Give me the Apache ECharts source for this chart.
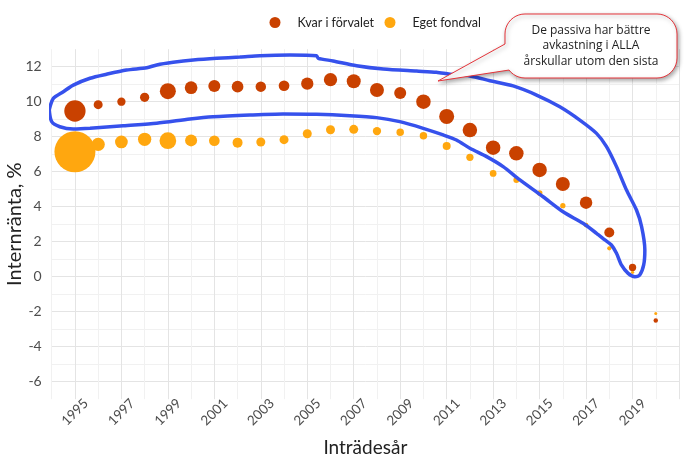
<!DOCTYPE html>
<html>
<head>
<meta charset="utf-8">
<script src="https://cdn.jsdelivr.net/npm/echarts@6/dist/echarts.min.js"></script>
<style>
html,body{margin:0;padding:0;background:#fff;}
#chart{width:690px;height:460px;}
</style>
</head>
<body>
<div id="chart"></div>
<script>
// Inträdesår (entry years)
const years = [1995,1996,1997,1998,1999,2000,2001,2002,2003,2004,2005,2006,2007,2008,2009,2010,2011,2012,2013,2014,2015,2016,2017,2018,2019,2020];
// Internränta, % — Kvar i förvalet
const kvarRanta = [9.47,9.83,10.0,10.25,10.6,10.8,10.9,10.86,10.86,10.91,11.03,11.26,11.17,10.67,10.5,10.0,9.16,8.38,7.37,7.05,6.1,5.3,4.23,2.53,0.53,-2.5];
// Internränta, % — Eget fondval
const egetRanta = [7.14,7.56,7.7,7.85,7.77,7.79,7.77,7.66,7.7,7.83,8.17,8.4,8.42,8.32,8.26,8.06,7.47,6.82,5.9,5.52,4.78,4.06,2.95,1.62,0.25,-2.1];
// Relative number of savers (bubble area)
const kvarAntal = [454,81,69,86,256,161,144,137,110,114,151,177,196,196,144,210,225,210,210,210,210,196,156,100,53,20];
const egetAntal = [1681,177,161,177,279,144,114,100,81,81,81,81,81,69,56,56,64,53,45,36,32,28,22,18,11,9];
// Year tick labels shown on the x axis
const yearLabels = [1995,1997,1999,2001,2003,2005,2007,2009,2011,2013,2015,2017,2019];
// Hand-drawn annotation outline, in data coordinates [year, %]
const outline = [
 [1993.89,9.53],[1994.07,10.19],[1994.50,10.57],[1994.93,10.95],[1995.65,11.34],[1996.36,11.57],
 [1997.22,11.81],[1998.09,11.94],[1998.52,12.10],[1999.23,12.25],[2000.09,12.38],[2001.10,12.48],
 [2002.10,12.55],[2002.96,12.63],[2004.25,12.67],[2005.40,12.63],[2005.47,12.48],[2006.11,12.33],
 [2007.12,12.06],[2008.27,11.87],[2009.70,11.75],[2010.56,11.68],[2011.14,11.57],[2012.00,11.47],
 [2012.86,11.20],[2013.86,10.90],[2014.87,10.38],[2015.87,9.71],[2016.73,8.95],[2017.45,8.19],
 [2017.88,7.43],[2018.31,6.29],[2018.74,4.95],[2019.17,3.81],[2019.39,2.86],[2019.53,1.53],
 [2019.48,0.67],[2019.31,0.10],[2019.10,0.0],[2018.81,0.19],[2018.52,0.67],[2018.31,1.34],
 [2018.09,1.81],[2017.81,2.10],[2017.45,2.48],[2016.87,3.05],[2016.01,3.71],[2015.15,4.57],
 [2014.15,5.53],[2013.43,6.29],[2012.72,6.86],[2012.00,7.34],[2011.42,7.81],[2010.85,8.10],
 [2009.99,8.48],[2008.98,8.86],[2007.98,9.09],[2006.83,9.20],[2005.40,9.28],[2003.96,9.30],
 [2002.53,9.24],[2000.95,9.14],[1999.95,9.01],[1998.52,8.77],[1997.08,8.63],[1995.65,8.48],
 [1994.93,8.44],[1994.35,8.57],[1994.00,8.86],[1993.89,9.53]
];
const calloutText = 'De passiva har bättre\navkastning i ALLA\nårskullar utom den sista';
const seriesNames = ['Kvar i förvalet','Eget fondval'];

const RED = '#C94100', ORANGE = '#FFA70F';
const FONT = 'Lato, "Noto Sans", sans-serif';

const kvarData = years.map((y,i)=>[y,kvarRanta[i],kvarAntal[i]]);
const egetData = years.map((y,i)=>[y,egetRanta[i],egetAntal[i]]);

// callout balloon outline (layout in pixels)
function arc(cx,cy,r,a0,a1,n){
  const pts=[];
  for(let k=0;k<=n;k++){const a=(a0+(a1-a0)*k/n)*Math.PI/180;pts.push([cx+r*Math.cos(a),cy+r*Math.sin(a)]);}
  return pts;
}
const bx0=505,bx1=677,by0=14,by1=78,br=20;
const balloon = [].concat(
  arc(bx1-br,by0+br,br,270,360,10),
  arc(bx1-br,by1-br,br,0,90,10),
  arc(bx0+br,by1-br,br,90,143,6),
  [[438,81],[bx0,44]],
  arc(bx0+br,by0+br,br,180,270,10)
);

const chart = echarts.init(document.getElementById('chart'), null, {renderer:'canvas'});
const MAJOR = '#e4e4e4', MINOR = '#f1f1f1';
chart.setOption({
  animation:false,
  backgroundColor:'#fff',
  textStyle:{fontFamily:FONT},
  grid:{left:51.7,right:11,top:49.2,bottom:60.8,containLabel:false,outerBoundsMode:'none'},
  legend:[
    {data:[seriesNames[0]],left:264.5,top:11,icon:'circle',itemWidth:11,itemHeight:11,
     textStyle:{fontFamily:FONT,fontSize:12.5,color:'#222',padding:[0,0,0,12]}},
    {data:[seriesNames[1]],left:379.5,top:11,icon:'circle',itemWidth:11,itemHeight:11,
     textStyle:{fontFamily:FONT,fontSize:12.5,color:'#222',padding:[0,0,0,12]}}
  ],
  xAxis:{
    type:'value',min:1994,max:2021,interval:1,
    name:'Inträdesår',nameLocation:'middle',nameGap:39,nameMoveOverlap:false,
    nameTextStyle:{fontFamily:FONT,fontSize:19,color:'#222'},
    axisLine:{show:false},axisTick:{show:false},
    axisLabel:{formatter:v=> (yearLabels.indexOf(v)>=0? String(v):''),rotate:45,align:'center',verticalAlign:'middle',
      margin:13,fontSize:13.5,color:'#4d4d4d',fontFamily:FONT},
    splitLine:{show:true,lineStyle:{color:[MINOR,MAJOR],width:1}}
  },
  yAxis:{
    type:'value',min:-7,max:13,interval:1,
    name:'Internränta, %',nameLocation:'middle',nameGap:27,nameMoveOverlap:false,
    nameTextStyle:{fontFamily:FONT,fontSize:20,color:'#222'},
    axisLine:{show:false},axisTick:{show:false},
    axisLabel:{formatter:v=> (Math.abs(v)%2===0? String(v):''),margin:10,fontSize:14,color:'#4d4d4d',fontFamily:FONT},
    splitLine:{show:true,showMinLine:false,showMaxLine:false,lineStyle:{color:[MAJOR,MINOR],width:1}}
  },
  series:[
    {name:seriesNames[1],type:'scatter',data:egetData,symbolSize:v=>Math.sqrt(v[2]),
     itemStyle:{color:ORANGE,opacity:1},z:2},
    {name:seriesNames[0],type:'scatter',data:kvarData,symbolSize:v=>Math.sqrt(v[2]),
     itemStyle:{color:RED,opacity:1},z:3},
    {name:'outline',type:'line',data:outline,showSymbol:false,symbol:'none',smooth:0.25,clip:false,
     lineStyle:{color:'#3651EC',width:3.5},z:4,silent:true}
  ],
  graphic:[
    {type:'polygon',z:100,shape:{points:balloon},
     style:{fill:'#fff',stroke:'#E5343A',lineWidth:1,shadowBlur:4,shadowOffsetX:1.5,shadowOffsetY:2,shadowColor:'rgba(0,0,0,0.35)'}},
    {type:'text',z:101,x:591,y:46,
     style:{text:calloutText,fontFamily:'"Open Sans", "Noto Sans", sans-serif',fontSize:12,lineHeight:15.5,
       fill:'#222',align:'center',verticalAlign:'middle'}}
  ]
});
</script>
</body>
</html>
